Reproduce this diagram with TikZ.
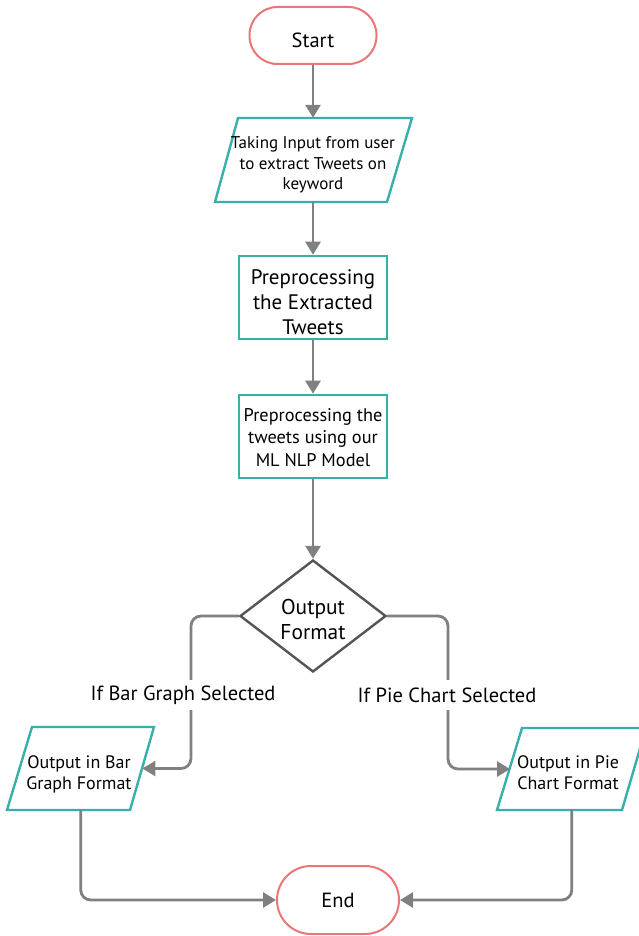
\documentclass[tikz,border=0pt]{standalone}
\usepackage{fontspec}
\setmainfont{PT Sans}
\usetikzlibrary{arrows.meta,shapes.geometric}
\definecolor{tealline}{RGB}{56,176,170}
\definecolor{pinkline}{RGB}{234,118,118}
\definecolor{flowgray}{RGB}{128,128,128}
\definecolor{diagray}{RGB}{85,85,85}
\begin{document}
\begin{tikzpicture}[x=1pt,y=-1pt,
  terminal/.style={draw=pinkline,line width=2pt,inner sep=0pt,
    font=\fontsize{20.5}{24}\selectfont},
  process/.style={draw=tealline,line width=2.6pt,minimum width=148pt,
    minimum height=83pt,inner sep=0pt},
  iobox/.style={inner sep=0pt},
  boxtext/.style={inner sep=0pt,align=center},
  ioshape/.style={draw=tealline,line width=2.4pt,line join=miter},
  decision/.style={diamond,draw=diagray,line width=2.4pt,minimum width=146pt,
    minimum height=112pt,inner sep=0pt},
  flow/.style={draw=flowgray,line width=2.8pt,rounded corners=10pt,
    -{Triangle[width=15pt,length=13pt]}},
  plain/.style={draw=flowgray,line width=2.8pt,rounded corners=10pt},
  branchlabel/.style={inner sep=0pt,minimum height=30pt,
    font=\fontsize{20.5}{24}\selectfont}
]
\useasboundingbox[fill=white] (0,0) rectangle (638,936);

% terminals
\node[terminal,minimum width=127pt,minimum height=57pt,rounded corners=28pt,
  text height=24pt,text depth=0pt] (start) at (313,35.5) {Start};
\node[terminal,minimum width=122pt,minimum height=68pt,rounded corners=34pt]
  (end) at (338,900) {End};

% input
\draw[ioshape] (238,118) -- (412,118) -- (387,202) -- (215,202) -- cycle;
\node[iobox,minimum width=150pt,minimum height=84pt] (in) at (313,160) {};
\node[boxtext,font=\fontsize{17}{20.5}\selectfont] (inText) at (313,165)
  {Taking Input from user\\to extract Tweets on\\keyword};

% processing steps
\node[process] (prep) at (313,297.5) {};
\node[boxtext,font=\fontsize{21}{25}\selectfont] (prepText) at (313,302)
  {Preprocessing\\the Extracted\\Tweets};
\node[process] (model) at (313,436.5) {};
\node[boxtext,font=\fontsize{18.3}{22.5}\selectfont] (modelText) at (313,437.5)
  {Preprocessing the\\tweets using our\\ML NLP Model};

% decision
\node[decision] (fmt) at (313,616) {};
\node[boxtext,font=\fontsize{21.4}{25}\selectfont] (fmtText) at (313,620)
  {Output\\Format};

% branch labels
\node[branchlabel] (lblL) at (183,695) {If Bar Graph Selected};
\node[branchlabel] (lblR) at (447,695) {If Pie Chart Selected};
\coordinate (busL) at (191,0);
\coordinate (busR) at (448,0);

% outputs
\draw[ioshape] (32,727) -- (154,727) -- (130,810) -- (7,810) -- cycle;
\node[iobox,minimum width=123pt,minimum height=83pt] (outL) at (80.75,768.5) {};
\node[boxtext,font=\fontsize{18}{21}\selectfont] (outLText) at (79,774)
  {Output in Bar\\Graph Format};
\draw[ioshape] (522,728) -- (646,728) -- (622,810) -- (497,810) -- cycle;
\node[iobox,minimum width=123pt,minimum height=82pt] (outR) at (571.75,769) {};
\node[boxtext,font=\fontsize{18}{21}\selectfont] (outRText) at (568,773)
  {Output in Pie\\Chart Format};

% connectors
\draw[flow] (start) -- (in);
\draw[flow] (in) -- (prep);
\draw[flow] (prep) -- (model);
\draw[flow] (model) -- (fmt);
\draw[plain] (fmt.west) -| (busL |- lblL.north);
\draw[flow] (busL |- lblL.south) |- (outL.east);
\draw[plain] (fmt.east) -| (busR |- lblR.north);
\draw[flow] (busR |- lblR.south) |- (outR.west);
\draw[flow] (outL.south) |- (end.west);
\draw[flow] (outR.south) |- (end.east);
\end{tikzpicture}
\end{document}
